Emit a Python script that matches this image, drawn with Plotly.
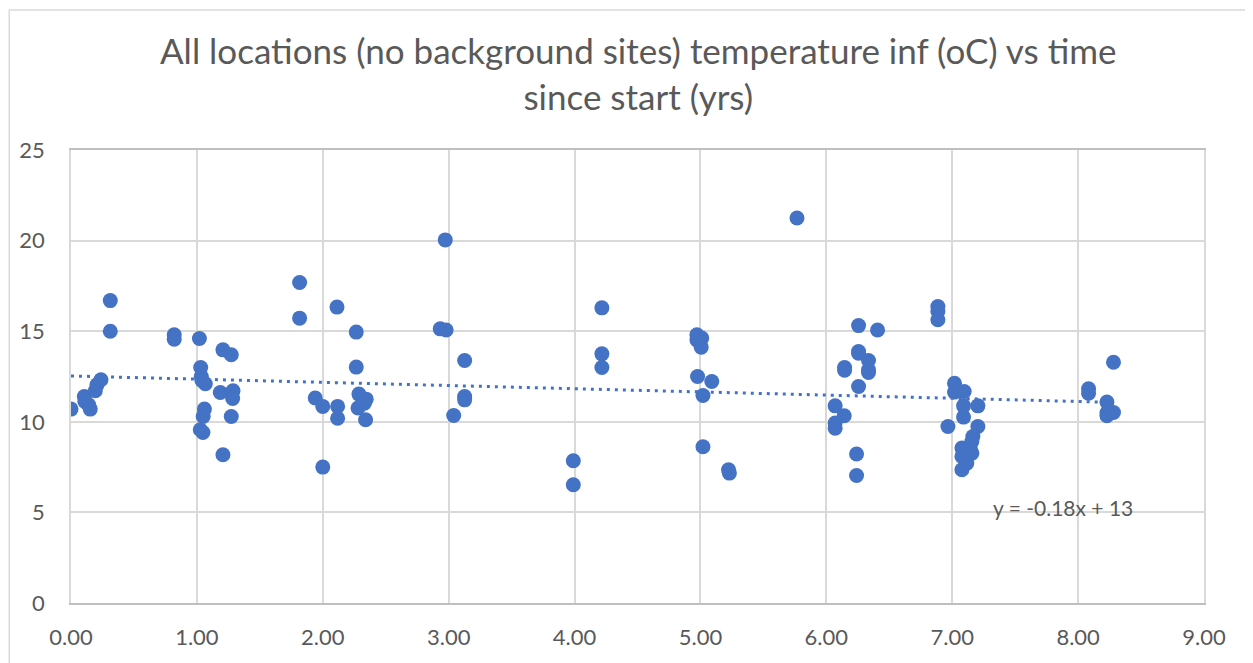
import plotly.graph_objects as go

# time since start (yrs)
x_years = [
    0.00, 0.106, 0.11, 0.14, 0.153, 0.193, 0.206, 0.238, 0.312, 0.312,
    0.82, 0.82, 1.02, 1.03, 1.035, 1.04, 1.067, 1.06, 1.05, 1.027, 1.048,
    1.207, 1.273, 1.186, 1.287, 1.284, 1.273, 1.207,
    1.816, 1.816, 2.113, 2.266, 2.266, 1.94, 2.00, 2.118, 2.118, 2.00,
    2.287, 2.345, 2.33, 2.28, 2.34,
    2.973, 2.933, 2.98, 3.127, 3.127, 3.127, 3.04,
    3.99, 3.99, 4.217, 4.217, 4.217,
    4.972, 5.01, 4.972, 5.006, 4.977, 5.09, 5.02, 5.02, 5.223, 5.23,
    5.767,
    6.07, 6.142, 6.07, 6.07, 6.256, 6.407, 6.256, 6.256, 6.335, 6.335, 6.335,
    6.145, 6.145, 6.256, 6.24, 6.24,
    6.886, 6.886, 6.886, 6.966, 7.018, 7.018, 7.095, 7.09, 7.09, 7.204, 7.204,
    7.164, 7.156, 7.077, 7.143, 7.156, 7.077, 7.116, 7.077,
    8.083, 8.083, 8.281, 8.229, 8.281, 8.229, 8.229,
]
# temperature inf (oC)
temp_c = [
    10.70, 11.40, 11.12, 10.94, 10.70, 11.71, 12.04, 12.32, 16.69, 15.00,
    14.80, 14.56, 14.60, 13.00, 12.50, 12.28, 12.10, 10.70, 10.29, 9.56, 9.41,
    13.97, 13.70, 11.62, 11.71, 11.29, 10.29, 8.18,
    17.69, 15.72, 16.33, 14.95, 13.02, 11.31, 10.85, 10.85, 10.20, 7.50,
    11.53, 11.25, 11.03, 10.76, 10.11,
    20.04, 15.13, 15.07, 13.38, 11.40, 11.21, 10.35,
    7.85, 6.53, 16.29, 13.75, 13.00,
    14.80, 14.62, 14.52, 14.12, 12.50, 12.22, 11.45, 8.62, 7.35, 7.17,
    21.25,
    10.88, 10.33, 9.93, 9.65, 15.31, 15.07, 13.88, 13.78, 13.38, 12.87, 12.72,
    13.00, 12.85, 11.95, 8.22, 7.04,
    16.36, 16.09, 15.63, 9.74, 12.13, 11.64, 11.67, 10.88, 10.26, 10.88, 9.74,
    9.19, 8.91, 8.55, 8.55, 8.27, 8.09, 7.72, 7.35,
    11.82, 11.58, 13.29, 11.09, 10.51, 10.33, 10.50,
]

# linear trendline as drawn in the reference (label: y = -0.18x + 13)
trend_slope = -0.176
trend_intercept = 12.53

title_text = "All locations (no background sites) temperature inf (oC) vs time<br>since start (yrs)"
eq_text = "y = -0.18x + 13"

blue = "#4472C4"
grey_text = "#595959"
grid = "#d9d9d9"
font_family = "Lato, Carlito, Calibri, sans-serif"

tx = [min(x_years), max(x_years)]
ty = [trend_slope * v + trend_intercept for v in tx]

fig = go.Figure()
fig.add_trace(go.Scatter(
    x=tx, y=ty, mode="lines",
    line=dict(color=blue, width=3, dash="3px,5px"),
    hoverinfo="skip", showlegend=False,
))
fig.add_trace(go.Scatter(
    x=x_years, y=temp_c, mode="markers",
    marker=dict(color=blue, size=15, line=dict(width=0)),
    showlegend=False,
))

fig.add_annotation(
    x=7.88, y=5.26, xref="x", yref="y", text=eq_text, showarrow=False,
    font=dict(family=font_family, size=21, color=grey_text),
)

# title as a centred two-line annotation above the plot area
fig.add_annotation(
    x=0.5, y=1.17, xref="paper", yref="paper", xanchor="center", yanchor="middle",
    text=title_text, showarrow=False,
    font=dict(family=font_family, size=35, color=grey_text),
)

# outer chart border
fig.add_shape(
    type="rect", xref="paper", yref="paper",
    x0=-0.0545, x1=1.2, y0=-0.3, y1=1.309,
    line=dict(color=grid, width=1.5), fillcolor="rgba(0,0,0,0)", layer="below",
)

fig.update_layout(
    width=1245, height=655,
    margin=dict(l=63, r=49, t=142, b=60, autoexpand=False),
    paper_bgcolor="white", plot_bgcolor="white",
    font=dict(family=font_family, color=grey_text),
)
fig.update_xaxes(
    range=[0, 9], dtick=1, tick0=0, tickformat=".2f",
    showgrid=True, gridcolor=grid, gridwidth=1.5,
    showline=True, linecolor="#bfbfbf", linewidth=1.5, mirror=True,
    zeroline=False, ticks="", ticklabelstandoff=14, automargin=False,
    tickfont=dict(family=font_family, size=22, color=grey_text),
)
fig.update_yaxes(
    range=[0, 25], dtick=5, tick0=0,
    showgrid=True, gridcolor=grid, gridwidth=1.5,
    showline=True, linecolor=grid, linewidth=1.5, mirror=True,
    zeroline=False, ticks="", ticklabelstandoff=20, automargin=False,
    tickfont=dict(family=font_family, size=22, color=grey_text),
)

fig.write_html("out.html")
